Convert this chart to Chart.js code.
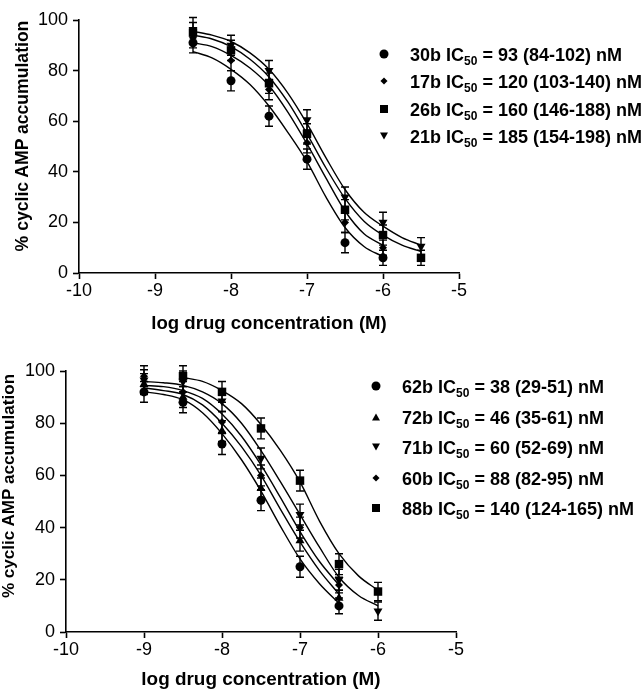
<!DOCTYPE html>
<html>
<head>
<meta charset="utf-8">
<script src="https://cdn.jsdelivr.net/npm/chart.js@4.4.0/dist/chart.umd.min.js"></script>
<style>
  html, body { margin: 0; padding: 0; background: #fff; }
  body { width: 644px; height: 692px; position: relative; overflow: hidden; font-family: "Liberation Sans", Arial, sans-serif; color: #000; }
  canvas { position: absolute; left: 0; }
  #top-chart { top: 0; }
  #bottom-chart { top: 345px; }
  .y-title { position: absolute; font-weight: bold; white-space: nowrap; transform: translate(-50%, -50%) rotate(-90deg); }
  .legend-row { position: absolute; font-weight: bold; font-size: 18px; line-height: 20px; white-space: nowrap; }
  .legend-row sub { font-size: 12px; vertical-align: -4px; line-height: 0; }
  .marker { position: absolute; transform: translate(-50%, -50%); }
  .marker.circle { width: 9px; height: 9px; border-radius: 50%; background: #000; }
  .marker.square { width: 8px; height: 8px; background: #000; }
  .marker.diamond { width: 5px; height: 5px; background: #000; transform: translate(-50%, -50%) rotate(45deg); }
  .marker.triangle { width: 0; height: 0; border-left: 4px solid transparent; border-right: 4px solid transparent; border-bottom: 7px solid #000; }
  .marker.triangleDown { width: 0; height: 0; border-left: 4px solid transparent; border-right: 4px solid transparent; border-top: 7px solid #000; }
</style>
</head>
<body>
<canvas id="top-chart" width="490" height="345"></canvas>
<canvas id="bottom-chart" width="490" height="347"></canvas>
<div id="overlay"></div>
<script>
// ---- top panel: measured points (mean, sem) ----
const topDoses = [-8.5, -8, -7.5, -7, -6.5, -6, -5.5];
const top30b = [91, 76, 62, 45, 12, 6];
const top17b = [93, 84, 72.5, 51.5, 20, 10];
const top26b = [95, 88, 75, 55, 25, 15, 6];
const top21b = [96, 90, 80, 60.5, 30, 20, 10.5];
const top30bSem = [4, 4, 4, 4, 4, 3];
const top17bSem = [4, 4, 4, 4, 4, 3];
const top26bSem = [4, 4, 4, 4, 4, 4, 3];
const top21bSem = [5, 4, 4, 4, 4, 4, 3.5];

// ---- top panel: fitted curves ----
const topFitX = [-8.5, -8.25, -8, -7.75, -7.5, -7.25, -7, -6.75, -6.5, -6.25, -6, -5.75, -5.5];
const topFit30b = [87.5, 85, 80.5, 74.5, 66, 55.5, 44, 30, 18, 10.5, 6.5];
const topFit17b = [91, 89.5, 86, 81, 74, 63.5, 51, 37.5, 24.5, 15.5, 11];
const topFit26b = [94, 92.5, 89.5, 84.5, 77.5, 67.5, 55, 41.5, 29.5, 20.5, 15, 11, 8.5];
const topFit21b = [95.5, 94, 91.5, 87, 80.5, 71, 59, 45.5, 33, 24, 18.5, 14, 11];

// ---- bottom panel: measured points ----
const bottomDoses = [-9, -8.5, -8, -7.5, -7, -6.5, -6];
const bot62b = [92, 88, 72, 50.5, 25, 10];
const bot72b = [95, 90, 77, 55, 35, 13];
const bot71b = [96.5, 96, 88.5, 66.5, 45, 20, 8];
const bot60b = [98, 92, 80.5, 60, 40, 18];
const bot88b = [null, 98, 92, 78, 58, 26, 15.5];
const bot62bSem = [4, 4, 4, 4, 4, 3];
const bot72bSem = [4, 4, 4, 4, 4, 3];
const bot71bSem = [4, 4, 4, 4, 4, 4, 3.5];
const bot60bSem = [4, 4, 4, 4, 4, 3];
const bot88bSem = [null, 4, 4, 4, 4, 4, 3.5];

// ---- bottom panel: fitted curves ----
const bottomFitX = [-9, -8.75, -8.5, -8.25, -8, -7.75, -7.5, -7.25, -7, -6.75, -6.5, -6.25, -6];
const botFit62b = [92, 91, 89, 84, 76, 66, 54, 40.5, 28, 18.5, 11];
const botFit72b = [93.5, 92.5, 91, 87, 80, 71, 60, 47, 34.5, 23.5, 14.5];
const botFit60b = [94.5, 94, 92.5, 89.5, 83.5, 75, 64, 51.5, 38.5, 27, 18];
const botFit71b = [96, 95.5, 94.5, 92, 87.5, 80, 69.5, 57.5, 45, 32.5, 21, 14, 10];
const botFit88b = [null, null, 97.5, 96, 92.5, 87.5, 79.5, 69.5, 57.5, 42.5, 30, 21.5, 16];

// ---- legend text ----
const topLegendNames = ["30b", "17b", "26b", "21b"];
const topLegendIc50 = ["93 (84-102)", "120 (103-140)", "160 (146-188)", "185 (154-198)"];
const topLegendShapes = ["circle", "diamond", "square", "triangleDown"];
const bottomLegendNames = ["62b", "72b", "71b", "60b", "88b"];
const bottomLegendIc50 = ["38 (29-51)", "46 (35-61)", "60 (52-69)", "88 (82-95)", "140 (124-165)"];
const bottomLegendShapes = ["circle", "triangle", "triangleDown", "diamond", "square"];

const FONT = "'Liberation Sans', Arial, sans-serif";

const markerStyles = {
  circle: { pointStyle: "circle", radius: 4.5, rotation: 0 },
  diamond: { pointStyle: "rectRot", radius: 4, rotation: 0 },
  square: { pointStyle: "rect", radius: 6, rotation: 0 },
  triangle: { pointStyle: "triangle", radius: 5.2, rotation: 0 },
  triangleDown: { pointStyle: "triangle", radius: 5.2, rotation: 180 }
};

function toPoints(xs, ys) {
  const pts = [];
  xs.forEach((x, i) => {
    if (ys[i] !== null && ys[i] !== undefined) pts.push({ x, y: ys[i] });
  });
  return pts;
}

function pointSet(xs, ys, sems, shape) {
  const m = markerStyles[shape];
  const errors = [];
  xs.forEach((x, i) => {
    if (ys[i] !== null && ys[i] !== undefined) errors.push(sems[i]);
  });
  return {
    data: toPoints(xs, ys),
    errors,
    showLine: false,
    pointStyle: m.pointStyle,
    pointRadius: m.radius,
    rotation: m.rotation,
    backgroundColor: "#000",
    borderColor: "#000",
    borderWidth: 0
  };
}

function fitSet(xs, ys) {
  return {
    data: toPoints(xs, ys),
    showLine: true,
    pointRadius: 0,
    borderColor: "#000",
    borderWidth: 1.4,
    cubicInterpolationMode: "monotone",
    fill: false
  };
}

// Vertical SEM bars with caps, drawn under the markers.
const errorBarPlugin = {
  id: "errorBars",
  beforeDatasetsDraw(chart) {
    const { ctx, scales } = chart;
    ctx.save();
    ctx.strokeStyle = "#000";
    ctx.lineWidth = 1.4;
    chart.data.datasets.forEach((ds) => {
      if (!ds.errors) return;
      ds.data.forEach((pt, j) => {
        const e = ds.errors[j];
        const px = scales.x.getPixelForValue(pt.x);
        const hi = scales.y.getPixelForValue(pt.y + e);
        const lo = scales.y.getPixelForValue(pt.y - e);
        ctx.beginPath();
        ctx.moveTo(px, hi); ctx.lineTo(px, lo);
        ctx.moveTo(px - 4, hi); ctx.lineTo(px + 4, hi);
        ctx.moveTo(px - 4, lo); ctx.lineTo(px + 4, lo);
        ctx.stroke();
      });
    });
    ctx.restore();
  }
};

function axisGrid() {
  return { drawOnChartArea: false, drawTicks: true, tickLength: 6, tickWidth: 1.6, tickColor: "#000" };
}

function makeChart(canvas, datasets, box) {
  return new Chart(canvas, {
    type: "scatter",
    data: { datasets },
    plugins: [errorBarPlugin],
    options: {
      responsive: false,
      animation: false,
      devicePixelRatio: 1,
      layout: { padding: { top: box.top, right: box.right, bottom: 0, left: 0 } },
      plugins: { legend: { display: false }, tooltip: { enabled: false } },
      scales: {
        x: {
          type: "linear",
          min: -10,
          max: -5,
          ticks: { stepSize: 1, color: "#000", padding: 1, font: { family: FONT, size: 18 }, callback: (v) => String(v) },
          grid: axisGrid(),
          border: { display: true, color: "#000", width: 1.6 },
          title: {
            display: true,
            text: "log drug concentration (M)",
            color: "#000",
            font: { family: FONT, size: box.titleSize, weight: "bold" },
            padding: { top: 0, bottom: box.titlePad }
          },
          afterFit: (scale) => { scale.height = box.xHeight; }
        },
        y: {
          type: "linear",
          min: 0,
          max: 100,
          ticks: { stepSize: 20, color: "#000", padding: 5, font: { family: FONT, size: 18 } },
          grid: axisGrid(),
          border: { display: true, color: "#000", width: 1.6 },
          afterFit: (scale) => { scale.width = box.yWidth; }
        }
      }
    }
  });
}

makeChart(document.getElementById("top-chart"), [
  pointSet(topDoses, top30b, top30bSem, "circle"),
  pointSet(topDoses, top17b, top17bSem, "diamond"),
  pointSet(topDoses, top26b, top26bSem, "square"),
  pointSet(topDoses, top21b, top21bSem, "triangleDown"),
  fitSet(topFitX, topFit30b),
  fitSet(topFitX, topFit17b),
  fitSet(topFitX, topFit26b),
  fitSet(topFitX, topFit21b)
], { top: 20, right: 31, xHeight: 72, yWidth: 79, titlePad: 9.5, titleSize: 18.6 });

makeChart(document.getElementById("bottom-chart"), [
  pointSet(bottomDoses, bot62b, bot62bSem, "circle"),
  pointSet(bottomDoses, bot72b, bot72bSem, "triangle"),
  pointSet(bottomDoses, bot71b, bot71bSem, "triangleDown"),
  pointSet(bottomDoses, bot60b, bot60bSem, "diamond"),
  pointSet(bottomDoses, bot88b, bot88bSem, "square"),
  fitSet(bottomFitX, botFit62b),
  fitSet(bottomFitX, botFit72b),
  fitSet(bottomFitX, botFit71b),
  fitSet(bottomFitX, botFit60b),
  fitSet(bottomFitX, botFit88b)
], { top: 26, right: 34, xHeight: 60, yWidth: 66, titlePad: 1.2, titleSize: 18.9 });

// ---- HTML overlay: y titles and legends (with subscripts) ----
const overlay = document.getElementById("overlay");

function addYTitle(cx, cy, size) {
  const el = document.createElement("div");
  el.className = "y-title";
  el.style.left = cx + "px";
  el.style.top = cy + "px";
  el.style.fontSize = size + "px";
  el.textContent = "% cyclic AMP accumulation";
  overlay.appendChild(el);
}

function addLegend(names, ic50s, shapes, textLeft, markerX, firstY, step) {
  names.forEach((name, i) => {
    const cy = firstY + i * step;
    const row = document.createElement("div");
    row.className = "legend-row";
    row.style.left = textLeft + "px";
    row.style.top = (cy - 10) + "px";
    row.innerHTML = `${name} IC<sub>50</sub> = ${ic50s[i]} nM`;
    overlay.appendChild(row);
    const mk = document.createElement("div");
    mk.className = "marker " + shapes[i];
    mk.style.left = markerX + "px";
    mk.style.top = (cy - 1) + "px";
    overlay.appendChild(mk);
  });
}

addYTitle(22, 136, 17.6);
addYTitle(8.5, 486, 17.1);
addLegend(topLegendNames, topLegendIc50, topLegendShapes, 410, 384, 55, 27.3);
addLegend(bottomLegendNames, bottomLegendIc50, bottomLegendShapes, 402, 376, 387, 30.5);
</script>
</body>
</html>
